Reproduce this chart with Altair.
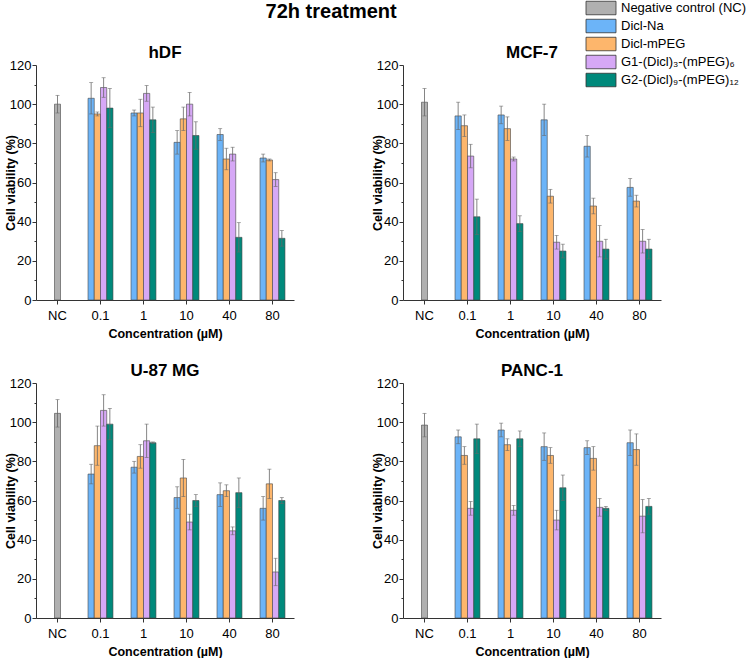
import altair as alt
import pandas as pd

conc = ["NC", "0.1", "1", "10", "40", "80"]
series = ["Negative control (NC)", "Dicl-Na", "Dicl-mPEG",
          "G1-(Dicl)\u2083-(mPEG)\u2086", "G2-(Dicl)\u2089-(mPEG)\u2081\u2082"]
colors = ["#b0b0b0", "#6cb4f8", "#fdb66c", "#d6a8f6", "#00897b"]

# per panel: NC value/err, then for each drug series values at 0.1,1,10,40,80
panels = ["hDF", "MCF-7", "U-87 MG", "PANC-1"]
nc_val = {"hDF": 100, "MCF-7": 101, "U-87 MG": 104.5, "PANC-1": 98.5}
nc_err = {"hDF": 4.5, "MCF-7": 7, "U-87 MG": 7, "PANC-1": 6}

vals = {
    "hDF": [[103, 95.5, 80.5, 84.5, 72.5],
            [95, 95.5, 92.5, 72, 71.5],
            [108.5, 105.5, 100, 74.5, 61.5],
            [98, 92, 84, 32, 31.5]],
    "MCF-7": [[94, 94.5, 92, 78.5, 57.5],
              [89, 87.5, 53, 48, 50.5],
              [73.5, 72, 29.5, 30, 30],
              [42.5, 39, 25, 26, 26]],
    "U-87 MG": [[73.5, 77, 61.5, 63, 56],
                [88, 82.5, 71.5, 65, 68.5],
                [106, 90.5, 49, 44.5, 23.5],
                [99, 89.5, 60, 64, 60]],
    "PANC-1": [[92.5, 96, 87.5, 87, 89.5],
               [83, 88.5, 83, 81.5, 86],
               [56, 55, 50, 56.5, 52],
               [91.5, 91.5, 66.5, 56, 57]],
}
errs = {
    "hDF": [[8, 1.5, 6, 3, 2],
            [1, 7, 6, 5.5, 0.5],
            [5, 4, 6, 3.5, 3.5],
            [10, 6.5, 7, 7.5, 4]],
    "MCF-7": [[7, 4.5, 8, 5.5, 4.5],
              [5.5, 6, 3.5, 4, 3],
              [6, 1, 3.5, 8, 6],
              [9, 4, 3.5, 5, 5]],
    "U-87 MG": [[5, 3, 5.5, 6, 6],
                [10, 6, 9.5, 3, 7.5],
                [8, 8.5, 4, 2, 7],
                [8, 0.4, 3, 7.5, 1.5]],
    "PANC-1": [[3.5, 3.5, 7, 3.5, 6.5],
               [4.5, 3, 4, 6, 8],
               [3.5, 2.5, 5, 4.5, 8.5],
               [7.5, 4, 6.5, 1, 4]],
}

FONT = "Liberation Sans"
drug_series = series[1:]

color_scale = alt.Scale(domain=series, range=colors)
x_scale = alt.Scale(domain=conc, paddingInner=0.42, paddingOuter=0.21)
y_scale = alt.Scale(domain=[0, 120], nice=False)
x_axis = alt.Axis(title="Concentration (\u00b5M)", labelAngle=0, domain=True,
                  domainColor="#333", tickColor="#333", tickSize=4,
                  labelFontSize=13, labelFont=FONT, labelColor="#000",
                  titleFont=FONT, titleFontSize=12.5, titleFontWeight="bold",
                  titleColor="#000", titlePadding=5, labelPadding=5)
y_axis = alt.Axis(title="Cell viability (%)", values=list(range(0, 121, 10)),
                  labelExpr="datum.value % 20 === 0 ? datum.label : ''",
                  labelOverlap=False,
                  tickSize={"condition": {"test": "datum.value % 20 === 0", "value": 4}, "value": 2},
                  domainColor="#333", tickColor="#333", grid=False,
                  labelFontSize=13, labelFont=FONT, labelColor="#000",
                  titleFont=FONT, titleFontSize=12.5, titleFontWeight="bold",
                  titleColor="#000", titlePadding=-8, labelPadding=1)


def X():
    return alt.X("conc:N", sort=conc, scale=x_scale, axis=x_axis)


def Y(field):
    return alt.Y(f"{field}:Q", scale=y_scale, axis=y_axis)


xoff = alt.XOffset("series:N", sort=drug_series,
                   scale=alt.Scale(domain=drug_series, paddingInner=0, paddingOuter=0))


def panel(name):
    rows = [{"conc": "NC", "series": series[0], "value": nc_val[name], "err": nc_err[name]}]
    for si, s in enumerate(drug_series):
        for ci, c in enumerate(conc[1:]):
            rows.append({"conc": c, "series": s, "value": vals[name][si][ci], "err": errs[name][si][ci]})
    df = pd.DataFrame(rows)
    df["lo"] = df["value"] - df["err"]
    df["hi"] = df["value"] + df["err"]
    nc = df[df["conc"] == "NC"]
    dr = df[df["conc"] != "NC"]

    color = alt.Color("series:N", scale=color_scale, sort=series,
                      legend=alt.Legend(title=None, orient="none", legendX=557, legendY=-65,
                                        symbolType="M-2,-0.9H2V0.9H-2Z", symbolSize=225,
                                        symbolStrokeColor="#333", symbolStrokeWidth=0.8,
                                        labelFont=FONT, labelFontSize=13, labelColor="#000",
                                        rowPadding=0, labelOffset=12, symbolOpacity=1))

    b1 = alt.Chart(nc).mark_bar(size=6, stroke="#444", strokeWidth=0.6, opacity=1).encode(
        x=X(), y=Y("value"), color=color)
    b2 = alt.Chart(dr).mark_bar(stroke="#444", strokeWidth=0.6, opacity=1).encode(
        x=X(), xOffset=xoff, y=Y("value"), color=color)
    r1 = alt.Chart(nc).mark_rule(color="#666", strokeWidth=0.8).encode(
        x=X(), y=Y("lo"), y2="hi:Q")
    r2 = alt.Chart(dr).mark_rule(color="#666", strokeWidth=0.8).encode(
        x=X(), xOffset=xoff, y=Y("lo"), y2="hi:Q")
    ticks = []
    for fld in ["lo", "hi"]:
        ticks.append(alt.Chart(nc).mark_tick(color="#666", size=4, thickness=0.8, orient="horizontal").encode(
            x=X(), y=Y(fld)))
        ticks.append(alt.Chart(dr).mark_tick(color="#666", size=4, thickness=0.8, orient="horizontal").encode(
            x=X(), xOffset=xoff, y=Y(fld)))
    return alt.layer(b1, b2, r1, r2, *ticks).properties(
        width=258, height=235,
        title=alt.TitleParams(name, font=FONT, fontSize=17, fontWeight="bold", color="#000", offset=-3))


top = alt.hconcat(panel("hDF"), panel("MCF-7"), spacing=77)
bot = alt.hconcat(panel("U-87 MG"), panel("PANC-1"), spacing=77)
chart = alt.vconcat(top, bot, spacing=22).properties(
    title=alt.TitleParams("72h treatment", font=FONT, fontSize=20, fontWeight="bold", color="#000",
                          anchor="middle", offset=0, dx=-44, dy=22),
    padding={"left": 4, "top": 0, "right": 0, "bottom": 0}
).configure_view(stroke=None).configure_axis(domainWidth=1)

chart.save("out.html", embed_options={"renderer": "svg", "actions": False})
